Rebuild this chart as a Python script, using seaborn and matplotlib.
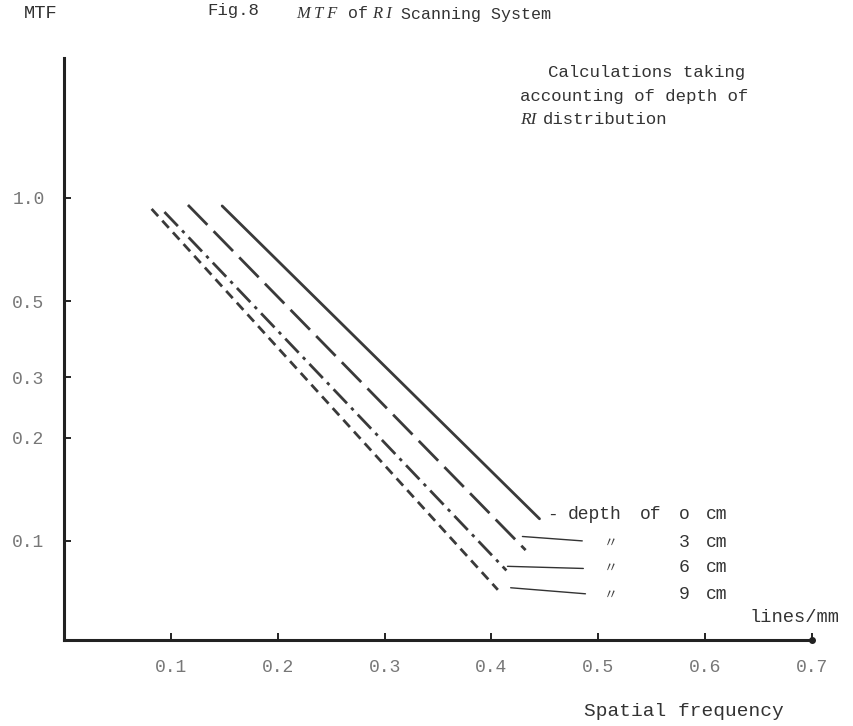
import numpy as np
import pandas as pd
import seaborn as sns
import matplotlib
matplotlib.use("Agg")
import matplotlib.pyplot as plt
from matplotlib.ticker import FixedLocator, FixedFormatter, NullLocator

# ---------------- data ----------------
depths = ["0 cm", "3 cm", "6 cm", "9 cm"]
freq_start = [0.148, 0.116, 0.094, 0.082]   # lines/mm
freq_end = [0.445, 0.432, 0.414, 0.406]
mtf_start = [0.948, 0.954, 0.910, 0.929]
mtf_end = [0.116, 0.094, 0.082, 0.072]

x_ticks = [0.1, 0.2, 0.3, 0.4, 0.5, 0.6, 0.7]
x_tick_labels = ["0.1", "0.2", "0.3", "0.4", "0.5", "0.6", "0.7"]
y_ticks = [0.1, 0.2, 0.3, 0.5, 1.0]
y_tick_labels = ["0.1", "0.2", "0.3", "0.5", "1.0"]

# leader lines + labels for the depth annotations
leader_x0 = [0.429, 0.415, 0.418]
leader_x1 = [0.485, 0.486, 0.488]
leader_y0 = [0.103, 0.0843, 0.0730]
leader_y1 = [0.100, 0.0831, 0.0701]
label_y = [0.119, 0.099, 0.0834, 0.0697]
label_num = ["o", "3", "6", "9"]

# ---------------- figure ----------------
W, H = 854, 726
sns.set_theme(style="white")
plt.rcParams["font.family"] = ["Liberation Mono", "DejaVu Sans"]

fig = plt.figure(figsize=(W / 100, H / 100), dpi=100)
ax = fig.add_axes([64 / W, 1 - 640 / H, (812 - 64) / W, (640 - 58) / H])

df = pd.DataFrame({
    "freq": [v for a, b in zip(freq_start, freq_end) for v in (a, b)],
    "mtf": [v for a, b in zip(mtf_start, mtf_end) for v in (a, b)],
    "depth": [d for d in depths for _ in range(2)],
})
dash_styles = {"0 cm": "", "3 cm": (10, 3.2), "6 cm": (7, 2.2, 1.2, 2.2), "9 cm": (3.5, 2.2)}
sns.lineplot(data=df, x="freq", y="mtf", style="depth", dashes=dash_styles,
             color="#3a3a3a", linewidth=2.0, legend=False, sort=False,
             estimator=None, ax=ax)

ax.set_yscale("log")
ax.set_xlim(0, 0.7)
ax.set_ylim(0.0514, 2.56)

ax.xaxis.set_major_locator(FixedLocator(x_ticks))
ax.xaxis.set_major_formatter(FixedFormatter(x_tick_labels))
ax.yaxis.set_major_locator(FixedLocator(y_ticks))
ax.yaxis.set_major_formatter(FixedFormatter(y_tick_labels))
ax.yaxis.set_minor_locator(NullLocator())
ax.xaxis.set_minor_locator(NullLocator())

ax.tick_params(axis="both", which="major", direction="in", length=5, width=1.4,
               color="#222222", labelcolor="#777777", labelsize=13,
               bottom=True, left=True)
ax.tick_params(axis="x", pad=14)
ax.tick_params(axis="y", pad=14)
for lab in ax.get_xticklabels() + ax.get_yticklabels():
    lab.set_fontfamily(["Liberation Mono", "DejaVu Sans"])

ax.set_xlabel("")
ax.set_ylabel("")
for s in ["top", "right"]:
    ax.spines[s].set_visible(False)
for s in ["left", "bottom"]:
    ax.spines[s].set_color("#222222")
    ax.spines[s].set_linewidth(2.2)
ax.patch.set_alpha(0)

# axis end dot
ax.plot([0.7], [0.0514], marker="o", markersize=4, color="#222222", clip_on=False)

# leader lines
for x0, x1, y0, y1 in zip(leader_x0, leader_x1, leader_y0, leader_y1):
    ax.plot([x0, x1], [y0, y1], color="#333333", linewidth=1.0)


def ftext(x, y, s, **kw):
    base = dict(color="#333333", fontsize=12.5, va="center", ha="left",
                family=["Liberation Mono", "DejaVu Sans"])
    base.update(kw)
    return fig.text(x / W, 1 - y / H, s, **base)


def ytop(v):
    # pixel row of a data value (for aligning the depth labels)
    return H - ax.transData.transform((0, v))[1]


# depth labels
row_px = [ytop(v) for v in label_y]
ftext(547, row_px[0], "-", fontsize=13)
ftext(568, row_px[0], "depth", fontsize=13)
ftext(640, row_px[0], "of", fontsize=13)
ftext(679, row_px[0], label_num[0], fontsize=13)
ftext(706, row_px[0], "cm", fontsize=13)
for ypx, num in zip(row_px[1:], label_num[1:]):
    ftext(604, ypx, "\u3003", fontsize=10, color="#444444",
          family=["Noto Sans CJK JP", "DejaVu Sans"])
    ftext(679, ypx, num, fontsize=13)
    ftext(706, ypx, "cm", fontsize=13)

ftext(24, 14, "MTF", fontsize=13.5)
ftext(207, 10, "Fig.8", fontsize=12.5)
ftext(296, 14, "M T F", style="italic", fontsize=12,
      family=["Liberation Serif", "DejaVu Serif"])
ftext(348, 14, "of", fontsize=12)
ftext(372, 14, "R I", style="italic", fontsize=12,
      family=["Liberation Serif", "DejaVu Serif"])
ftext(401, 14, "Scanning System", fontsize=12)

ftext(745, 72, "Calculations taking", ha="right")
ftext(520, 96, "accounting of depth of")
ftext(520, 120, "RI", style="italic", family=["Liberation Serif", "DejaVu Serif"])
ftext(543, 120, "distribution")

ftext(750, 618, "lines/mm", fontsize=13.5)
ftext(584, 712, "Spatial frequency", fontsize=14)

fig.savefig("out.png", dpi=100, facecolor="white")
